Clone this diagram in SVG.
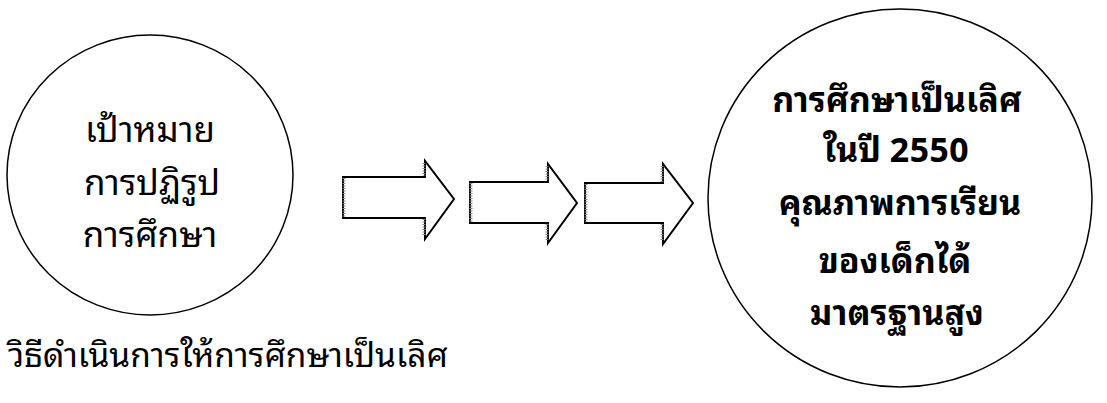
<svg xmlns="http://www.w3.org/2000/svg" width="1107" height="403" viewBox="0 0 1107 403">
<style>
.circ{fill:#fff;stroke:#000;stroke-width:1.5}
.arr{fill:#fff;stroke:#000;stroke-width:2;stroke-linejoin:miter}
.shade{stroke:#888;stroke-width:3;stroke-dasharray:1 1.5}
.t{font-family:"Noto Sans Thai Looped","Noto Serif Thai","Noto Sans Thai","Noto Sans",sans-serif;font-size:35px;fill:#000;text-anchor:middle}
.tb{font-family:"Noto Sans Thai Looped","Noto Serif Thai","Noto Sans Thai","Noto Sans",sans-serif;font-size:34px;font-weight:bold;fill:#000;text-anchor:middle}
.tn{font-family:"Noto Sans Thai Looped","Noto Serif Thai","Noto Sans Thai","Noto Sans",sans-serif;font-size:33.5px;fill:#000}
</style>
<rect width="1107" height="403" fill="#fff"/>
<g id="goal">
<ellipse class="circ" cx="150" cy="175" rx="143" ry="140"/>
<text class="t" x="150" y="142">เป้าหมาย</text>
<text class="t" x="152" y="195">การปฏิรูป</text>
<text class="t" x="150" y="247">การศึกษา</text>
</g>
<g id="connectors">
<g id="arrow1">
<polygon class="arr" points="343,177 425,177 425,161 454,199 425,239 425,218 343,218"/>
<line class="shade" x1="344" y1="178" x2="344" y2="217"/>
<line class="shade" x1="424" y1="163" x2="424" y2="176"/>
<line class="shade" x1="424" y1="219" x2="424" y2="236"/>
</g>
<g id="arrow2">
<polygon class="arr" points="470,182 548,182 548,164 577,203 548,243 548,223 470,223"/>
<line class="shade" x1="471" y1="183" x2="471" y2="222"/>
<line class="shade" x1="547" y1="166" x2="547" y2="181"/>
<line class="shade" x1="547" y1="224" x2="547" y2="240"/>
</g>
<g id="arrow3">
<polygon class="arr" points="585,183 663,183 663,164 693,203 663,244 663,223 585,223"/>
<line class="shade" x1="586" y1="184" x2="586" y2="222"/>
<line class="shade" x1="662" y1="166" x2="662" y2="182"/>
<line class="shade" x1="662" y1="224" x2="662" y2="241"/>
</g>
</g>
<g id="result">
<ellipse class="circ" cx="900" cy="198" rx="192" ry="189"/>
<text class="tb" x="897" y="112">การศึกษาเป็นเลิศ</text>
<text class="tb" x="896" y="162">ในปี 2550</text>
<text class="tb" x="900" y="215">คุณภาพการเรียน</text>
<text class="tb" x="895" y="273">ของเด็กได้</text>
<text class="tb" x="897" y="325">มาตรฐานสูง</text>
</g>
<g id="note">
<text class="tn" x="8" y="367">วิธีดำเนินการให้การศึกษาเป็นเลิศ</text>
</g>
</svg>
